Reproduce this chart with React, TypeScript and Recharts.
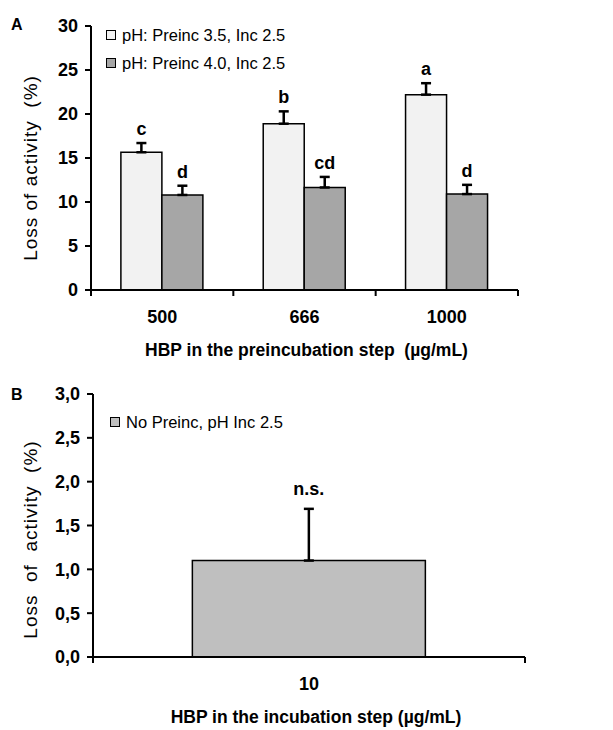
import React from 'react';
import { Bar, BarChart, ErrorBar, LabelList, Legend, XAxis, YAxis, Label } from 'recharts';

// Panel A: preincubation step
const doses = ['500', '666', '1000'];
const preinc35 = [15.65, 18.9, 22.2];
const preinc35Err = [1.05, 1.4, 1.3];
const preinc35Letters = ['c', 'b', 'a'];
const preinc40 = [10.8, 11.65, 10.9];
const preinc40Err = [1.05, 1.2, 1.05];
const preinc40Letters = ['d', 'cd', 'd'];
const yTicksA = [0, 5, 10, 15, 20, 25, 30];

// Panel B: incubation step only
const incDoses = ['10'];
const noPreinc = [1.1];
const noPreincErr = [0.59];
const noPreincLetters = ['n.s.'];
const yTicksB = [0, 0.5, 1, 1.5, 2, 2.5, 3];

const FONT = '"Liberation Sans", Arial, sans-serif';

const dataA = doses.map((dose, i) => ({
    dose,
    a: preinc35[i],
    aErr: [0, preinc35Err[i]],
    b: preinc40[i],
    bErr: [0, preinc40Err[i]],
}));

const dataB = incDoses.map((dose, i) => ({
    dose,
    v: noPreinc[i],
    vErr: [0, noPreincErr[i]],
}));

// letter above the error bar, placed with the bar's own pixel scale
const letterLabel = (letters: string[], errs: number[], gap: number) => (props: any) => {
    const { x, y, width, height, value, index } = props;
    const h = Number(height);
    const v = Number(value);
    const perUnit = v ? h / v : 0;
    const top = Number(y) - errs[index] * perUnit;
    return (
        <text x={Number(x) + Number(width) / 2} y={top - gap} textAnchor="middle"
            fontFamily={FONT} fontWeight="bold" fontSize={18} fill="#000">
            {letters[index]}
        </text>
    );
};

// category tick: label in the middle, tick marks on the band edges
const CatTick = (props: any) => {
    const { x, y, payload, index, visibleTicksCount, width } = props;
    const half = typeof payload?.offset === 'number' && payload.offset > 0
        ? payload.offset
        : width / (visibleTicksCount || 1) / 2;
    const axisY = y - 6;
    return (
        <g>
            {index === 0 && <line x1={x - half} x2={x - half} y1={axisY} y2={axisY + 6} stroke="#000" strokeWidth={2} />}
            <line x1={x + half} x2={x + half} y1={axisY} y2={axisY + 6} stroke="#000" strokeWidth={2} />
            <text x={x} y={axisY + 33} textAnchor="middle" fontFamily={FONT} fontWeight="bold" fontSize={18} fill="#000">
                {payload.value}
            </text>
        </g>
    );
};

const yLabel = (text: string, dy: number) => (props: any) => {
    const vb = props.viewBox || { x: 0, y: 0, width: 0, height: 0 };
    const cx = 30;
    const cy = vb.y + vb.height / 2 + dy;
    return (
        <text x={cx} y={cy} transform={`rotate(-90 ${cx} ${cy})`} textAnchor="middle" dominantBaseline="central"
            fontFamily={FONT} fontSize={19} letterSpacing={1} fill="#000" style={{ whiteSpace: 'pre' }}>
            {text}
        </text>
    );
};

const xLabel = (text: string, dx: number) => (props: any) => {
    const vb = props.viewBox || { x: 0, y: 0, width: 0, height: 0 };
    return (
        <text x={vb.x + vb.width / 2 + dx} y={vb.y + 66} textAnchor="middle"
            fontFamily={FONT} fontWeight="bold" fontSize={17.5} fill="#000" style={{ whiteSpace: 'pre' }}>
            {text}
        </text>
    );
};

const legendBox = (items: { label: string; color: string }[]) => () => (
    <div style={{ fontFamily: FONT, fontSize: 16.5, color: '#000' }}>
        {items.map((it) => (
            <div key={it.label} style={{ display: 'flex', alignItems: 'center', height: 28 }}>
                <span style={{ display: 'inline-block', width: 8, height: 8, border: '1.5px solid #000', background: it.color, marginRight: 6 }} />
                <span>{it.label}</span>
            </div>
        ))}
    </div>
);

const tickStyle = { fontFamily: FONT, fontWeight: 'bold', fontSize: 18, fill: '#000' } as any;

export default function App() {
    return (
        <div style={{ position: 'absolute', left: 0, top: 0, width: 613, height: 730, background: '#fff' }}>
            <div style={{ position: 'absolute', left: 11, top: 16, fontFamily: FONT, fontWeight: 'bold', fontSize: 16 }}>A</div>
            <div style={{ position: 'absolute', left: 11, top: 386, fontFamily: FONT, fontWeight: 'bold', fontSize: 16 }}>B</div>

            <div style={{ position: 'absolute', left: 0, top: 0 }}>
                <BarChart width={613} height={365} data={dataA} margin={{ top: 26, right: 95, bottom: 0, left: 0 }}
                    barCategoryGap="21%" barGap={0}>
                    <XAxis dataKey="dose" tick={<CatTick />} tickLine={false} tickSize={6} tickMargin={0} height={75}
                        axisLine={{ stroke: '#000', strokeWidth: 2 }} interval={0}>
                        <Label content={xLabel('HBP in the preincubation step  (µg/mL)', 2)} />
                    </XAxis>
                    <YAxis domain={[0, 30]} ticks={yTicksA} width={91} tick={tickStyle} tickSize={6} tickMargin={7}
                        tickLine={{ stroke: '#000', strokeWidth: 2 }} axisLine={{ stroke: '#000', strokeWidth: 2 }} interval={0}>
                        <Label content={yLabel('Loss of activity  (%)', 10)} />
                    </YAxis>
                    <Legend layout="vertical" align="center" verticalAlign="middle"
                        wrapperStyle={{ top: 21, left: 106, width: 280 }}
                        content={legendBox([
                            { label: 'pH: Preinc 3.5, Inc 2.5', color: '#f2f2f2' },
                            { label: 'pH: Preinc 4.0, Inc 2.5', color: '#a6a6a6' },
                        ])} />
                    <Bar dataKey="a" name="pH: Preinc 3.5, Inc 2.5" fill="#f2f2f2" stroke="#000" strokeWidth={1.5} isAnimationActive={false}>
                        <ErrorBar dataKey="aErr" direction="y" width={5} stroke="#000" strokeWidth={2.5} />
                        <LabelList dataKey="a" content={letterLabel(preinc35Letters, preinc35Err, 8)} />
                    </Bar>
                    <Bar dataKey="b" name="pH: Preinc 4.0, Inc 2.5" fill="#a6a6a6" stroke="#000" strokeWidth={1.5} isAnimationActive={false}>
                        <ErrorBar dataKey="bErr" direction="y" width={5} stroke="#000" strokeWidth={2.5} />
                        <LabelList dataKey="b" content={letterLabel(preinc40Letters, preinc40Err, 8)} />
                    </Bar>
                </BarChart>
            </div>

            <div style={{ position: 'absolute', left: 0, top: 365 }}>
                <BarChart width={613} height={365} data={dataB} margin={{ top: 29, right: 88, bottom: 0, left: 0 }}
                    barCategoryGap="23%">
                    <XAxis dataKey="dose" tick={<CatTick />} tickLine={false} tickSize={6} tickMargin={0} height={73}
                        axisLine={{ stroke: '#000', strokeWidth: 2 }} interval={0}>
                        <Label content={xLabel('HBP in the incubation step (µg/mL)', 7)} />
                    </XAxis>
                    <YAxis domain={[0, 3]} ticks={yTicksB} width={93} tick={tickStyle} tickSize={6} tickMargin={7}
                        tickFormatter={(v: number) => v.toFixed(1).replace('.', ',')}
                        tickLine={{ stroke: '#000', strokeWidth: 2 }} axisLine={{ stroke: '#000', strokeWidth: 2 }} interval={0}>
                        <Label content={yLabel('Loss  of  activity  (%)', 14)} />
                    </YAxis>
                    <Legend layout="vertical" align="center" verticalAlign="middle"
                        wrapperStyle={{ top: 43, left: 110, width: 240 }}
                        content={legendBox([{ label: 'No Preinc, pH Inc 2.5', color: '#bfbfbf' }])} />
                    <Bar dataKey="v" name="No Preinc, pH Inc 2.5" fill="#bfbfbf" stroke="#000" strokeWidth={1.5} isAnimationActive={false}>
                        <ErrorBar dataKey="vErr" direction="y" width={5} stroke="#000" strokeWidth={2.5} />
                        <LabelList dataKey="v" content={letterLabel(noPreincLetters, noPreincErr, 14)} />
                    </Bar>
                </BarChart>
            </div>
        </div>
    );
}
